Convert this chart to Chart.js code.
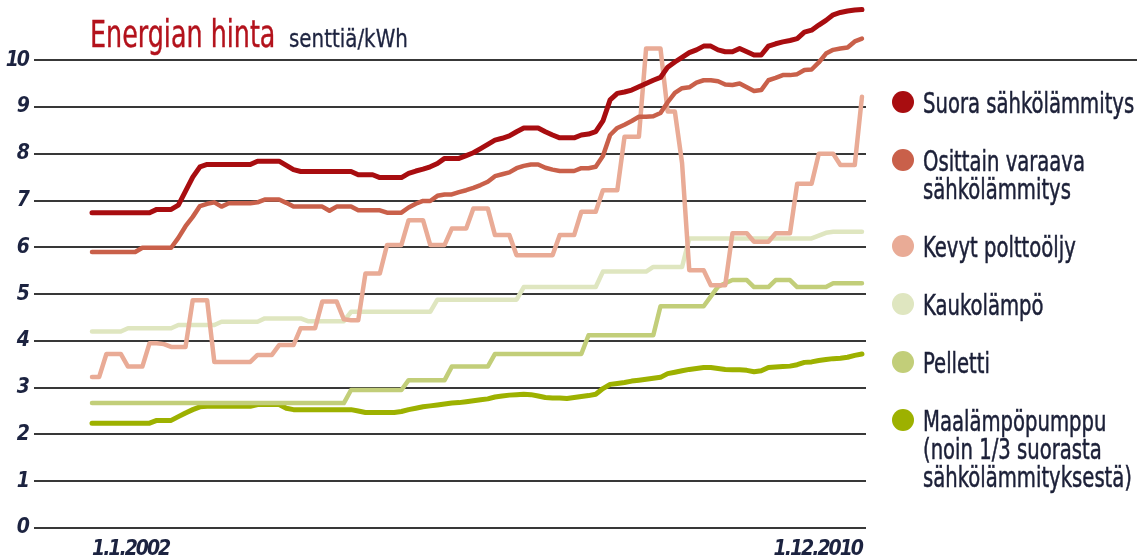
<!DOCTYPE html>
<html lang="fi">
<head>
<meta charset="utf-8">
<title>Energian hinta</title>
<script src="https://cdn.jsdelivr.net/npm/chart.js@4.4.1/dist/chart.umd.min.js"></script>
<style>
  html, body { margin: 0; padding: 0; background: #fff; }
  #wrap { position: relative; width: 1145px; height: 557px; overflow: hidden;
          font-family: 'DejaVu Sans Condensed', 'DejaVu Sans', sans-serif; }
  #chart { position: absolute; left: 0; top: 0; }
  .narrow { display: inline-block; transform-origin: 0 0; white-space: nowrap; }
  .title-main { position: absolute; left: 90px; top: 16px; font-size: 37px; line-height: 1;
                color: #b3121c; transform: scaleX(0.763); -webkit-text-stroke: 0.4px #b3121c; }
  .title-unit { position: absolute; left: 289px; top: 27px; font-size: 24px; line-height: 1;
                color: #1e2440; transform: scaleX(0.92); -webkit-text-stroke: 0.3px #1e2440; }
  #legend { position: absolute; left: 923px; top: 89px; display: flex; flex-direction: column; gap: 30px; }
  .item { position: relative; font-size: 29px; line-height: 28px; color: #1c2038; }
  .item .narrow { transform: scaleX(0.752); -webkit-text-stroke: 0.5px #1c2038; }
  .dot { position: absolute; left: -31px; top: 2px; width: 22px; height: 22px; border-radius: 50%; }
</style>
</head>
<body>
<div id="wrap">
  <canvas id="chart" width="1145" height="557"></canvas>
  <div class="narrow title-main">Energian hinta</div>
  <div class="narrow title-unit">senttiä/kWh</div>
  <div id="legend"></div>
</div>
<script>
// Monthly prices, 1.1.2002 – 1.12.2010 (108 months), cents per kWh
const xTickIndex  = [0, 107];
const xTickLabels = ['1.1.2002', '1.12.2010'];
const yTickValues = [0, 1, 2, 3, 4, 5, 6, 7, 8, 9, 10];

const seriesNames = [
  'Suora sähkölämmitys',
  'Osittain varaava\nsähkölämmitys',
  'Kevyt polttoöljy',
  'Kaukolämpö',
  'Pelletti',
  'Maalämpöpumppu\n(noin 1/3 suorasta\nsähkölämmityksestä)'
];

const suoraSahko = [
  6.74,6.74,6.74,6.74,6.74,6.74,6.74,6.74,6.74,6.81,6.81,6.81,
  6.90,7.20,7.50,7.72,7.77,7.77,7.77,7.77,7.77,7.77,7.77,7.84,
  7.84,7.84,7.84,7.75,7.66,7.62,7.62,7.62,7.62,7.62,7.62,7.62,
  7.62,7.55,7.55,7.55,7.49,7.49,7.49,7.49,7.58,7.63,7.67,7.72,
  7.79,7.90,7.90,7.90,7.96,8.02,8.11,8.20,8.29,8.33,8.38,8.47,
  8.55,8.55,8.55,8.47,8.40,8.34,8.34,8.34,8.40,8.42,8.47,8.70,
  9.15,9.29,9.32,9.36,9.43,9.50,9.57,9.63,9.85,9.96,10.06,10.16,
  10.22,10.30,10.30,10.22,10.18,10.18,10.25,10.18,10.11,10.11,10.30,10.35,
  10.39,10.42,10.46,10.60,10.64,10.75,10.85,10.97,11.02,11.05,11.07,11.08
];

const osittainVaraava = [
  5.90,5.90,5.90,5.90,5.90,5.90,5.90,5.99,5.99,5.99,5.99,5.99,
  6.20,6.45,6.65,6.88,6.93,6.96,6.87,6.94,6.94,6.94,6.94,6.96,
  7.02,7.02,7.02,6.95,6.87,6.87,6.87,6.87,6.87,6.78,6.87,6.87,
  6.87,6.79,6.79,6.79,6.79,6.74,6.74,6.74,6.85,6.93,6.99,6.99,
  7.10,7.13,7.13,7.18,7.22,7.27,7.33,7.40,7.52,7.56,7.60,7.69,
  7.74,7.77,7.77,7.70,7.66,7.63,7.63,7.63,7.69,7.69,7.72,7.95,
  8.40,8.55,8.62,8.70,8.79,8.79,8.80,8.87,9.10,9.30,9.40,9.42,
  9.52,9.57,9.57,9.55,9.48,9.47,9.50,9.42,9.34,9.36,9.57,9.62,
  9.68,9.68,9.70,9.79,9.80,9.95,10.14,10.22,10.25,10.27,10.40,10.46
];

const kevytPolttooljy = [
  3.23,3.23,3.72,3.72,3.72,3.45,3.45,3.45,3.95,3.95,3.93,3.87,
  3.87,3.87,4.87,4.87,4.87,3.55,3.55,3.55,3.55,3.55,3.55,3.70,
  3.70,3.70,3.91,3.91,3.91,4.27,4.27,4.27,4.84,4.84,4.84,4.46,
  4.44,4.44,5.44,5.44,5.44,6.05,6.05,6.05,6.58,6.58,6.58,6.05,
  6.05,6.05,6.40,6.40,6.40,6.83,6.83,6.83,6.26,6.26,6.26,5.83,
  5.83,5.83,5.83,5.83,5.83,6.26,6.26,6.26,6.76,6.76,6.76,7.22,
  7.22,7.22,8.36,8.36,8.36,10.25,10.25,10.25,8.90,8.90,7.80,5.51,
  5.51,5.51,5.19,5.19,5.19,6.30,6.30,6.30,6.12,6.12,6.12,6.30,
  6.30,6.30,7.36,7.36,7.36,8.00,8.00,8.00,7.76,7.76,7.76,9.22
];

const kaukolampo = [
  4.20,4.20,4.20,4.20,4.20,4.27,4.27,4.27,4.27,4.27,4.27,4.27,
  4.34,4.34,4.34,4.34,4.34,4.34,4.41,4.41,4.41,4.41,4.41,4.41,
  4.48,4.48,4.48,4.48,4.48,4.48,4.42,4.42,4.42,4.42,4.42,4.42,
  4.62,4.62,4.62,4.62,4.62,4.62,4.62,4.62,4.62,4.62,4.62,4.62,
  4.88,4.88,4.88,4.88,4.88,4.88,4.88,4.88,4.88,4.88,4.88,4.88,
  5.15,5.15,5.15,5.15,5.15,5.15,5.15,5.15,5.15,5.15,5.15,5.48,
  5.48,5.48,5.48,5.48,5.48,5.48,5.58,5.58,5.58,5.58,5.58,6.19,
  6.19,6.19,6.19,6.19,6.19,6.19,6.19,6.19,6.19,6.19,6.19,6.19,
  6.19,6.19,6.19,6.19,6.19,6.25,6.31,6.33,6.33,6.33,6.33,6.33
];

const pelletti = [
  2.67,2.67,2.67,2.67,2.67,2.67,2.67,2.67,2.67,2.67,2.67,2.67,
  2.67,2.67,2.67,2.67,2.67,2.67,2.67,2.67,2.67,2.67,2.67,2.67,
  2.67,2.67,2.67,2.67,2.67,2.67,2.67,2.67,2.67,2.67,2.67,2.67,
  2.95,2.95,2.95,2.95,2.95,2.95,2.95,2.95,3.16,3.16,3.16,3.16,
  3.16,3.16,3.45,3.45,3.45,3.45,3.45,3.45,3.72,3.72,3.72,3.72,
  3.72,3.72,3.72,3.72,3.72,3.72,3.72,3.72,3.72,4.12,4.12,4.12,
  4.12,4.12,4.12,4.12,4.12,4.12,4.12,4.74,4.74,4.74,4.74,4.74,
  4.74,4.74,4.95,5.16,5.23,5.30,5.30,5.30,5.15,5.15,5.15,5.30,
  5.30,5.30,5.15,5.15,5.15,5.15,5.15,5.23,5.23,5.23,5.23,5.23
];

const maalampopumppu = [
  2.24,2.24,2.24,2.24,2.24,2.24,2.24,2.24,2.24,2.30,2.30,2.30,
  2.38,2.46,2.53,2.59,2.60,2.60,2.60,2.60,2.60,2.60,2.60,2.64,
  2.64,2.64,2.64,2.56,2.53,2.53,2.53,2.53,2.53,2.53,2.53,2.53,
  2.53,2.50,2.47,2.47,2.47,2.47,2.47,2.49,2.53,2.56,2.59,2.61,
  2.63,2.65,2.67,2.68,2.70,2.72,2.74,2.76,2.80,2.82,2.84,2.85,
  2.86,2.85,2.82,2.79,2.78,2.78,2.77,2.79,2.81,2.83,2.86,2.98,
  3.07,3.09,3.11,3.14,3.16,3.18,3.20,3.22,3.30,3.33,3.36,3.39,
  3.41,3.43,3.43,3.41,3.39,3.38,3.38,3.37,3.34,3.36,3.43,3.44,
  3.45,3.46,3.49,3.54,3.55,3.58,3.60,3.62,3.63,3.65,3.69,3.72
];

const seriesValues = [suoraSahko, osittainVaraava, kevytPolttooljy, kaukolampo, pelletti, maalampopumppu];
const seriesColors = ['#a80d10', '#c9604a', '#e9ab96', '#dfe6c0', '#c2ce79', '#9db100'];
const lineWidths   = [5, 4.5, 4.5, 4.5, 4.5, 5];

const FONT = "'DejaVu Sans Condensed', 'DejaVu Sans', sans-serif";
const INK = '#1c2340';
const GRID = '#383838';

// legend on the right: colour dot + (possibly multi-line) label
const legendEl = document.getElementById('legend');
seriesNames.forEach((name, k) => {
  const item = document.createElement('div');
  item.className = 'item';
  const dot = document.createElement('span');
  dot.className = 'dot';
  dot.style.background = seriesColors[k];
  item.appendChild(dot);
  const text = document.createElement('span');
  text.className = 'narrow';
  name.split('\n').forEach((line, j) => {
    if (j > 0) text.appendChild(document.createElement('br'));
    text.appendChild(document.createTextNode(line));
  });
  item.appendChild(text);
  legendEl.appendChild(item);
});

// the 10-gridline runs on across the legend column
const topRule = {
  id: 'topRule',
  beforeDatasetsDraw(chart) {
    const y = Math.round(chart.scales.y.getPixelForValue(yTickValues[yTickValues.length - 1]));
    const c = chart.ctx;
    c.save();
    c.strokeStyle = GRID;
    c.lineWidth = 2;
    c.beginPath();
    c.moveTo(chart.chartArea.right, y);
    c.lineTo(chart.width - 8, y);
    c.stroke();
    c.restore();
  }
};

// tighter tracking for the condensed axis numerals
const tightLabels = {
  id: 'tightLabels',
  beforeDraw(chart) { chart.ctx.letterSpacing = '-2px'; },
  afterDraw(chart) { chart.ctx.letterSpacing = '0px'; }
};

new Chart(document.getElementById('chart'), {
  type: 'line',
  data: {
    datasets: seriesNames.map((name, k) => ({
      label: name,
      data: seriesValues[k].map((v, i) => ({ x: i, y: v })),
      borderColor: seriesColors[k],
      backgroundColor: seriesColors[k],
      borderWidth: lineWidths[k],
      pointRadius: 0,
      tension: 0,
      fill: false,
      borderJoinStyle: 'round',
      borderCapStyle: 'round'
    }))
  },
  options: {
    responsive: false,
    animation: false,
    devicePixelRatio: 1,
    layout: { padding: { top: 4, right: 279, bottom: 0, left: 0 } },
    plugins: { legend: { display: false }, tooltip: { enabled: false }, title: { display: false } },
    scales: {
      x: {
        type: 'linear',
        min: -8.06,
        max: 107.56,
        grid: { display: false },
        border: { display: false },
        afterBuildTicks: s => { s.ticks = xTickIndex.map(v => ({ value: v })); },
        afterFit: s => { s.height = 29; s.paddingLeft = 0; s.paddingRight = 0; },
        ticks: {
          autoSkip: false,
          maxRotation: 0,
          align: 'inner',
          padding: 1,
          color: INK,
          font: { family: FONT, size: 21, style: 'italic', weight: 'bold' },
          callback: (v, i) => xTickLabels[i]
        }
      },
      y: {
        min: 0,
        max: 11.2,
        afterBuildTicks: s => { s.ticks = yTickValues.map(v => ({ value: v })); },
        afterFit: s => { s.width = 34; s.paddingTop = 0; s.paddingBottom = 0; },
        grid: { color: GRID, lineWidth: 2, drawTicks: false },
        border: { display: false },
        ticks: {
          padding: 6,
          color: INK,
          font: { family: FONT, size: 21, style: 'italic', weight: 'bold' }
        }
      }
    }
  },
  plugins: [topRule, tightLabels]
});
</script>
</body>
</html>
